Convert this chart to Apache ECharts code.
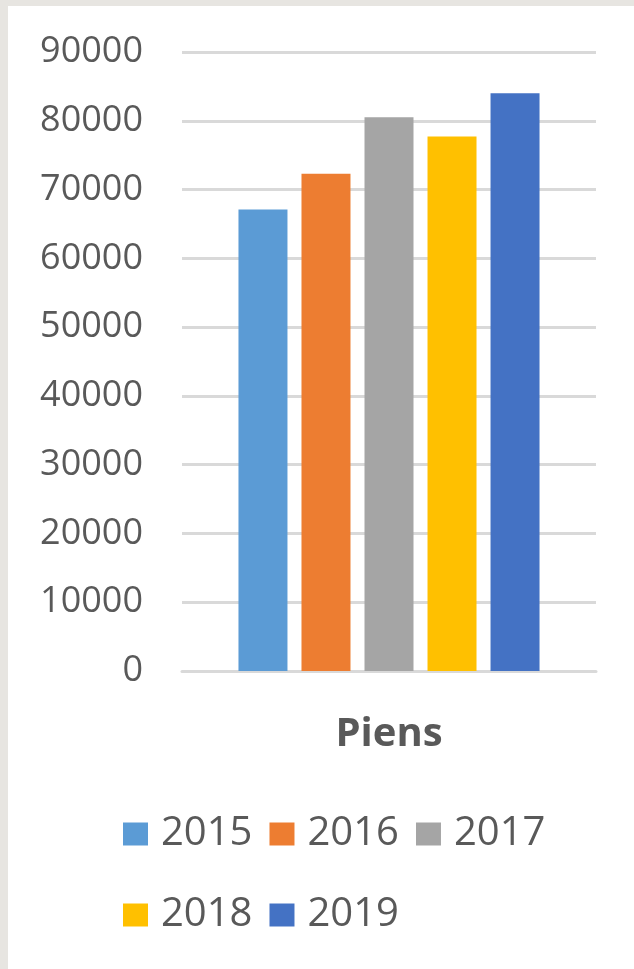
<!DOCTYPE html>
<html>
<head>
<meta charset="utf-8">
<script src="https://cdn.jsdelivr.net/npm/echarts@6/dist/echarts.min.js"></script>
<style>
html,body{margin:0;padding:0;background:#e7e5e1;}
#c{width:634px;height:969px;}
</style>
</head>
<body>
<div id="c"></div>
<script>
const categories = ['Piens'];
const years = ['2015', '2016', '2017', '2018', '2019'];
const values = [67100, 72300, 80500, 77700, 84000];
const colors = ['#5B9BD5', '#ED7D31', '#A5A5A5', '#FFC000', '#4472C4'];
const yMin = 0, yMax = 90000, yStep = 10000;

const font = '"Open Sans", "Segoe UI", sans-serif';
const chart = echarts.init(document.getElementById('c'), null, {renderer: 'canvas'});

const legendBase = {
  left: 123,
  padding: 0,
  icon: 'rect',
  itemWidth: 25,
  itemHeight: 23,
  itemGap: 17,
  textStyle: {fontFamily: font, fontSize: 40, color: '#595959', padding: [0, 0, 0, 8], lineHeight: 44}
};

chart.setOption({
  backgroundColor: '#e7e5e1',
  animation: false,
  graphic: [{
    type: 'rect', z: -10, silent: true,
    shape: {x: 8, y: 6, width: 626, height: 963},
    style: {fill: '#ffffff'}
  }],
  grid: {left: 182, right: 38, top: 52, bottom: 298, containLabel: false},
  xAxis: {
    type: 'category',
    data: categories,
    axisLine: {show: true, lineStyle: {color: '#d9d9d9', width: 3}},
    axisTick: {show: false},
    axisLabel: {margin: 44, fontFamily: font, fontSize: 40, fontWeight: 'bold', color: '#595959'}
  },
  yAxis: {
    type: 'value',
    min: yMin, max: yMax, interval: yStep,
    axisLine: {show: false},
    axisTick: {show: false},
    splitLine: {lineStyle: {color: '#d9d9d9', width: 3}},
    axisLabel: {margin: 39, fontFamily: font, fontSize: 36, color: '#595959', formatter: v => String(v)}
  },
  legend: [
    Object.assign({}, legendBase, {top: 812, data: years.slice(0, 3)}),
    Object.assign({}, legendBase, {top: 893, data: years.slice(3)})
  ],
  series: years.map((y, i) => ({
    name: y,
    type: 'bar',
    barWidth: 49,
    barGap: '28.6%',
    itemStyle: {color: colors[i]},
    data: [values[i]]
  }))
});
</script>
</body>
</html>
